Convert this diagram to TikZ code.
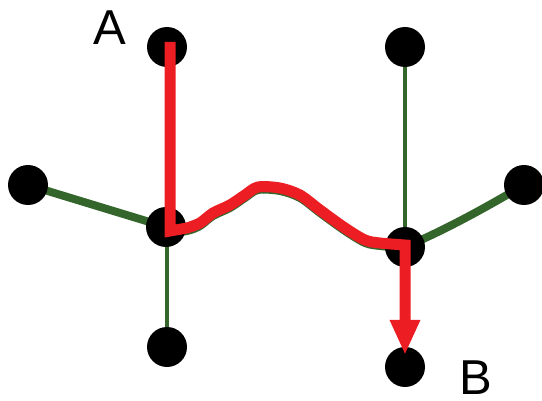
\documentclass[tikz,border=0pt]{standalone}
\usepackage{fontspec}
\setmainfont{Liberation Sans}
\usetikzlibrary{arrows.meta,calc}
\definecolor{gline}{RGB}{52,102,44}
\definecolor{rline}{RGB}{236,30,36}
\tikzset{
  dot/.style={circle,fill=black,inner sep=0pt,minimum size=40pt},
  thin green/.style={draw=gline,line width=4pt},
  thick green/.style={draw=gline,line width=8pt},
  route/.style={draw=rline,line width=11pt,line join=miter,
    -{Triangle[length=35pt,width=28pt]}},
  lab/.style={font=\fontsize{49}{49}\selectfont,inner sep=0pt}
}
\begin{document}
\begin{tikzpicture}[x=1pt,y=-1pt]
\useasboundingbox (0,0) rectangle (542,401);
% node positions
\coordinate (ptl) at (167,47);
\coordinate (ptr) at (405,47);
\coordinate (pl)  at (28,185);
\coordinate (pr)  at (524,185);
\coordinate (pcl) at (166,227);
\coordinate (pcr) at (405,247);
\coordinate (pbl) at (167,347);
\coordinate (pbr) at (405,367);
% green edges
\draw[thin green] (ptl) -- (pbl);
\draw[thin green] (ptr) -- (pbr);
\draw[thick green] (pl) -- (pcl);
\draw[thick green] (pcr) .. controls (445,230) and (485,208) .. (pr);
\draw[thick green] plot[smooth,tension=0.5] coordinates {(166,233) (187,231) (200,226) (213,216) (230,208) (245,198) (258,190) (280,191) (300,198) (320,213) (345,231) (365,243) (380,246) (405,248)};
% nodes
\node[dot] (tl) at (ptl) {};
\node[dot] (tr) at (ptr) {};
\node[dot] (l)  at (pl) {};
\node[dot] (r)  at (pr) {};
\node[dot] (cl) at (pcl) {};
\node[dot] (cr) at (pcr) {};
\node[dot] (bl) at (pbl) {};
\node[dot] (br) at (pbr) {};
% labels
\node[lab] (A) at (110,28) {A};
\node[lab] (B) at (476,378) {B};
% red route
\draw[route] ($(tl.center)+(3,-5)$) -- ($(cl.center)+(4,4)$)
  -- plot[smooth,tension=0.5] coordinates {(187,228) (200,223) (213,213) (230,205) (245,195) (258,187) (280,188) (300,195) (320,210) (345,228) (365,240) (380,243) (405,245)}
  -- ($(br.center)+(0,-12)$);
\end{tikzpicture}
\end{document}
